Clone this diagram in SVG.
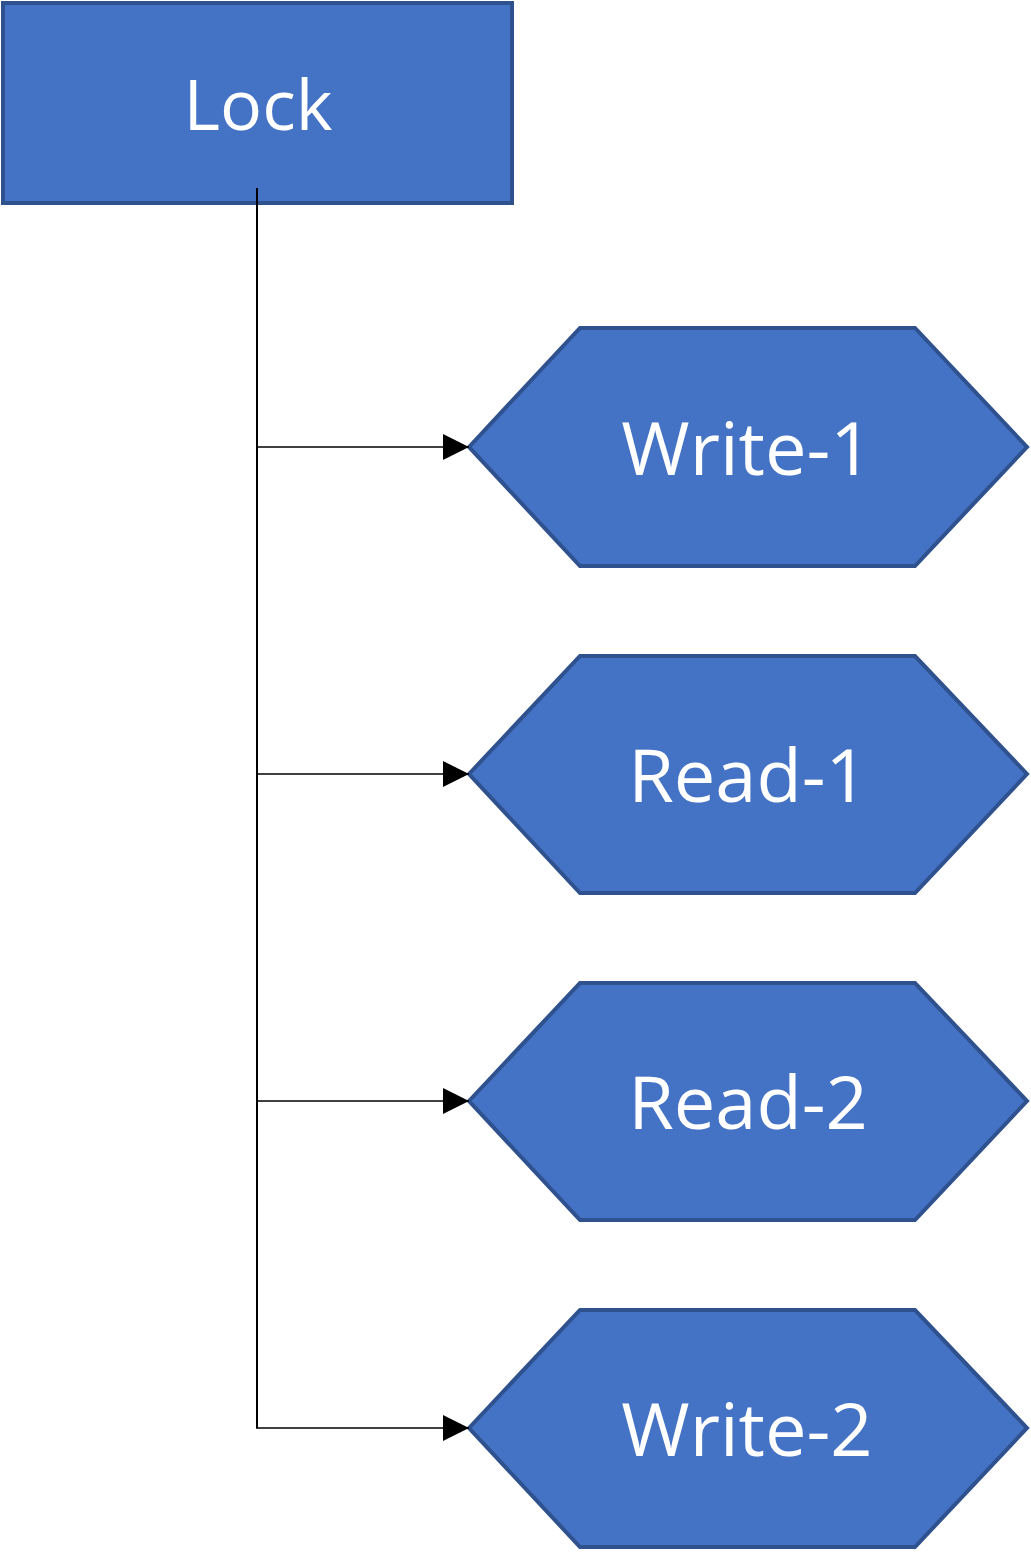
<svg xmlns="http://www.w3.org/2000/svg" width="1031" height="1553" viewBox="0 0 1031 1553">
<style>
.shape{fill:#4472C4;stroke:#2F528F;stroke-width:4}
.lbl{font-family:"Open Sans","Noto Sans","Liberation Sans",sans-serif;font-size:70px;fill:#fff;text-anchor:middle}
.hl{font-size:74px}
.conn{stroke:#000;fill:none}
</style>
<defs>
<marker id="arr" markerUnits="userSpaceOnUse" markerWidth="28" markerHeight="28" refX="26" refY="13" orient="auto">
<path d="M0,0 L26,13 L0,26 Z" fill="#000"/>
</marker>
</defs>
<rect width="1031" height="1553" fill="#fff"/>
<g id="lock">
<rect class="shape" x="3" y="3" width="509" height="200"/>
<text class="lbl" x="258" y="130">Lock</text>
</g>
<g id="write-1">
<polygon class="shape" points="469,447 580,328 915,328 1027,447 915,566 580,566"/>
<text class="lbl hl" x="747" y="475">Write-1</text>
</g>
<g id="read-1">
<polygon class="shape" points="469,774 580,656 915,656 1027,774 915,893 580,893"/>
<text class="lbl hl" x="748" y="802">Read-1</text>
</g>
<g id="read-2">
<polygon class="shape" points="469,1101 580,983 915,983 1027,1101 915,1220 580,1220"/>
<text class="lbl hl" x="748" y="1129">Read-2</text>
</g>
<g id="write-2">
<polygon class="shape" points="469,1428 580,1310 915,1310 1027,1428 915,1547 580,1547"/>
<text class="lbl hl" x="747" y="1456">Write-2</text>
</g>
<g id="connectors">
<line class="conn" x1="257" y1="188" x2="257" y2="1428" stroke-width="2"/>
<line class="conn" x1="257" y1="447" x2="469" y2="447" stroke-width="1.5" marker-end="url(#arr)"/>
<line class="conn" x1="257" y1="774" x2="469" y2="774" stroke-width="1.5" marker-end="url(#arr)"/>
<line class="conn" x1="257" y1="1101" x2="469" y2="1101" stroke-width="1.5" marker-end="url(#arr)"/>
<line class="conn" x1="256" y1="1428" x2="469" y2="1428" stroke-width="1.5" marker-end="url(#arr)"/>
</g>
</svg>
